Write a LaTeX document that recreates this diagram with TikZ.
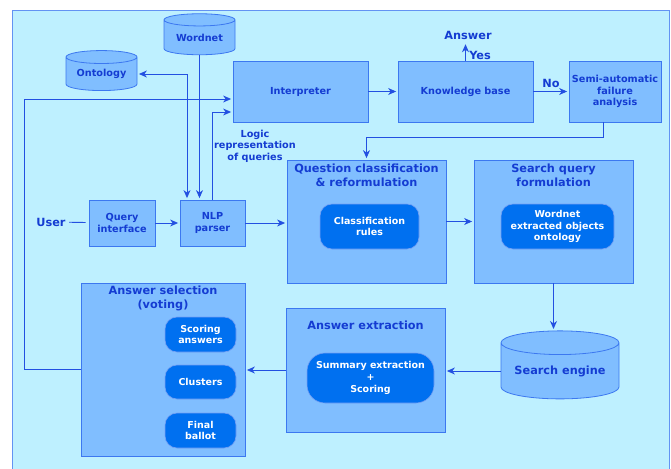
\documentclass[tikz,border=0pt]{standalone}
\usepackage{fontspec}
\setmainfont{DejaVu Sans}
\usetikzlibrary{shapes.geometric,arrows.meta,positioning}

\definecolor{bgcyan}{RGB}{190,240,255}
\definecolor{boxblue}{RGB}{128,190,255}
\definecolor{edgeblue}{RGB}{60,120,240}
\definecolor{textblue}{RGB}{20,60,210}
\definecolor{innerblue}{RGB}{0,112,240}
\definecolor{arrowblue}{RGB}{35,80,225}

\begin{document}
\begin{tikzpicture}[x=1pt,y=-1pt, >={Stealth[length=8pt,width=7pt,inset=2.5pt]},
    txt/.style={font=\fontsize{9.7}{11.5}\selectfont\bfseries, text=textblue, align=center},
    big/.style={font=\fontsize{11.3}{14}\selectfont\bfseries, text=textblue, align=center},
    box/.style={rectangle, draw=edgeblue, line width=0.8pt, fill=boxblue, inner sep=0pt},
    inbox/.style={rectangle, rounded corners=12pt, draw=edgeblue!70, line width=0.6pt, fill=innerblue,
        text=white, font=\fontsize{9.5}{11.7}\selectfont\bfseries, align=center, inner sep=0pt},
    db/.style={cylinder, shape border rotate=90, aspect=0.26, draw=edgeblue, line width=0.8pt,
        fill=boxblue, inner sep=0pt},
    flow/.style={draw=arrowblue, line width=0.9pt, ->, shorten >=1.5pt}]

    \clip (0,0) rectangle (671,468);
    \fill[white] (0,0) rectangle (671,468);
    \draw[edgeblue!80, line width=0.8pt, fill=bgcyan] (12,10) rectangle (669,480);

    % Databases
    \node (wordnet) [db, txt, minimum width=71pt, minimum height=41pt] at (199.5,37.5) {Wordnet};
    \node (ontology) [db, txt, minimum width=71pt, minimum height=40pt] at (101.5,74) {Ontology};
    \node (engine) [db, big, minimum width=118pt, minimum height=68pt] at (560,371) {Search engine};

    % Top row
    \node (interp) [box, txt, minimum width=135pt, minimum height=61pt] at (300.5,91.5) {Interpreter};
    \node (kb) [box, txt, minimum width=135pt, minimum height=61pt] at (465.5,91.5) {Knowledge base};
    \node (semi) [box, txt, minimum width=92pt, minimum height=61pt] at (615,91.5) {Semi-automatic\\failure\\analysis};
    \node (answer) [big] at (468,35) {Answer};

    % Input side
    \node (user) [big] at (51,222) {User};
    \node (qi) [box, txt, minimum width=66pt, minimum height=46pt] at (122,223) {Query\\interface};
    \node (nlp) [box, txt, minimum width=65pt, minimum height=46pt] at (212.5,223) {NLP\\parser};
    \node (logic) [txt] at (255,146) {Logic\\representation\\of queries};

    % Classification and query
    \node (qc) [box, minimum width=159pt, minimum height=123pt] at (366.5,221.5) {};
    \node (qctitle) [big, below=1pt of qc.north] {Question classification\\\& reformulation};
    \node (rules) [inbox] [minimum width=99pt, minimum height=45pt] at (369.5,226.5) {Classification\\rules};
    \node (sq) [box, minimum width=159pt, minimum height=123pt] at (553.5,221.5) {};
    \node (sqtitle) [big, below=1pt of sq.north] {Search query\\formulation};
    \node (objects) [inbox, minimum width=113pt, minimum height=45pt] at (557.5,226.5) {Wordnet\\extracted objects\\ontology};

    % Extraction
    \node (ae) [box, minimum width=159pt, minimum height=124pt] at (365.5,370) {};
    \node (aetitle) [big, below=10pt of ae.north] {Answer extraction};
    \node (summary) [inbox, rounded corners=18pt, minimum width=127pt, minimum height=50pt] at (370.5,378) {Summary extraction\\+\\Scoring};

    % Selection
    \node (as) [box, minimum width=164pt, minimum height=173pt] at (163,369.5) {};
    \node (astitle) [big, below=0pt of as.north] {Answer selection\\(voting)};
    \node (scoring) [inbox, minimum width=71pt, minimum height=35pt] at (200.5,334.5) {Scoring\\answers};
    \node (clusters) [inbox, minimum width=71pt, minimum height=34pt] at (200.5,382) {Clusters};
    \node (ballot) [inbox, minimum width=71pt, minimum height=35pt] at (200.5,430.5) {Final\\ballot};

    % Arrows
    \draw[arrowblue, line width=0.9pt, shorten >=3pt] (user) -- (qi);
    \draw[flow] (qi) -- (nlp);
    \draw[flow] (nlp.east) -- (nlp.east -| qc.west);
    \draw[flow] (wordnet.south) -- (wordnet.south |- nlp.north);
    \draw[flow, <->, shorten <=1.5pt] (ontology.east) -| ([xshift=-25.5pt]nlp.north);
    \draw[flow] (nlp.north) |- ([yshift=-20.5pt]interp.west);
    \draw[flow] (as.west) -- ++(-56,0) |- ([yshift=-7.5pt]interp.west);
    \draw[flow] (interp) -- (kb);
    \draw[flow] (kb) -- node[big, above] {No} (semi);
    \draw[flow] (kb.north) -- node[big, right, pos=0.3] {Yes} (kb.north |- answer.south);
    \draw[flow] ([xshift=-12pt]semi.south) -- ++(0,15) -| (qc.north);
    \draw[flow] (qc) -- (sq);
    \draw[flow] (sq.south) -- (sq.south |- engine.north);
    \draw[flow] (engine.west) -- (engine.west -| ae.east);
    \draw[flow] (ae.west) -- (ae.west -| as.east);
\end{tikzpicture}
\end{document}
